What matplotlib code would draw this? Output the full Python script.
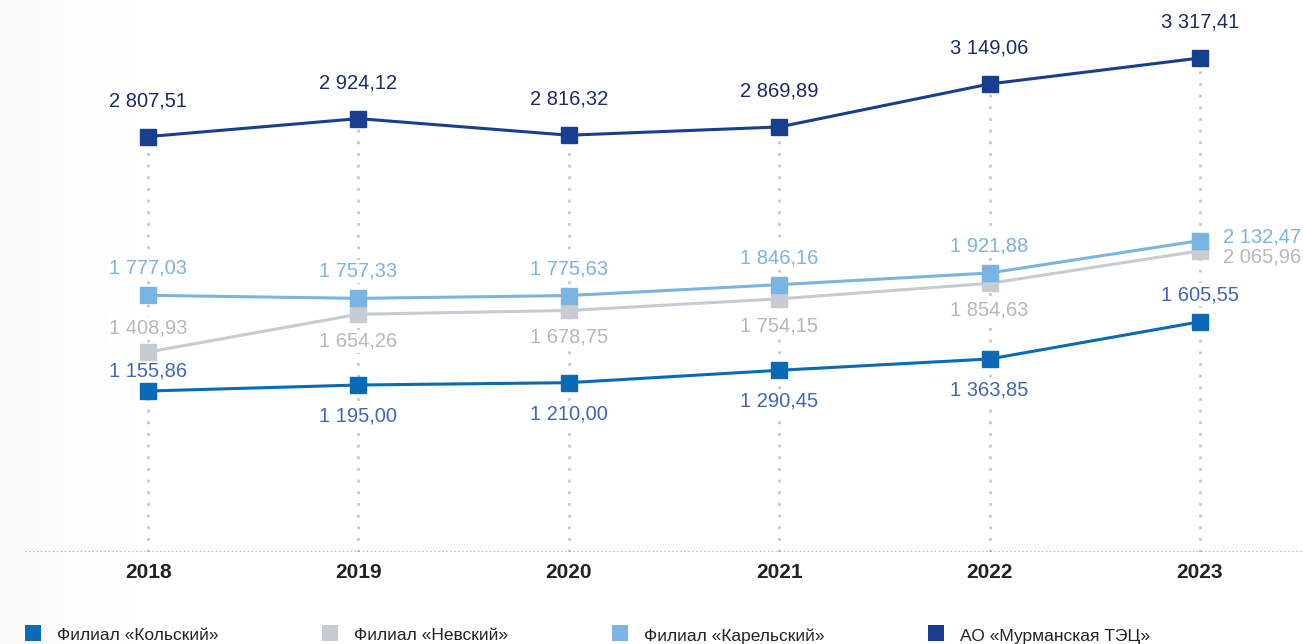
import numpy as np
import matplotlib.pyplot as plt
from matplotlib.patches import Rectangle

plt.rcParams['font.family'] = ['Liberation Sans', 'DejaVu Sans']

years = [2018, 2019, 2020, 2021, 2022, 2023]
murmansk = [2807.51, 2924.12, 2816.32, 2869.89, 3149.06, 3317.41]
karelsky = [1777.03, 1757.33, 1775.63, 1846.16, 1921.88, 2132.47]
nevsky = [1408.93, 1654.26, 1678.75, 1754.15, 1854.63, 2065.96]
kolsky = [1155.86, 1195.00, 1210.00, 1290.45, 1363.85, 1605.55]

legend_names = ['Филиал «Кольский»', 'Филиал «Невский»',
                'Филиал «Карельский»', 'АО «Мурманская ТЭЦ»']


def fmt(v):
    return f"{v:,.2f}".replace(",", " ").replace(".", ",")


W, H = 1303, 644
fig = plt.figure(figsize=(W / 100, H / 100), dpi=100)

# soft grey shade along the left edge
bg = fig.add_axes([0, 0, 1, 1], zorder=-10)
grad = np.clip(1 - np.linspace(0, 1, 1303) / 0.11, 0, 1)
bg.imshow(np.tile(grad, (10, 1)), cmap='Greys', vmin=0, vmax=20,
          aspect='auto', extent=[0, 1, 0, 1])
bg.set_axis_off()

ax = fig.add_axes([25 / W, (H - 552) / H, 1 - 25 / W, 552 / H])
ax.patch.set_alpha(0)
ax.set_xlim(2017.415, 2023.49)
ax.set_ylim(111, 3694)
ax.set_axis_off()

# dotted guides under each year
ax.vlines(years, 111, murmansk, colors='#c3c9d0', linestyles=(0, (1, 3.2)),
          linewidth=2, zorder=1)
ax.axhline(111, color='#9a9fa6', linestyle=(0, (1, 1.6)), linewidth=1.1, zorder=1)

series = [
    (kolsky, '#0a6ab5', '#4266b2'),
    (nevsky, '#c6ccd3', '#b8b8b8'),
    (karelsky, '#7ab4e2', '#7ab4e2'),
    (murmansk, '#173f8e', '#1d2a66'),
]
for vals, col, _ in series:
    ax.plot(years, vals, color=col, linewidth=2.2, marker='s', markersize=11.5,
            zorder=3)

box = dict(boxstyle='square,pad=0.1', facecolor='white', edgecolor='none')


def label(x, v, dx, dy, color, ha='center'):
    ax.annotate(fmt(v), (x, v), xytext=(dx, dy), textcoords='offset pixels',
                ha=ha, va='center', fontsize=14.5, color=color, bbox=box,
                zorder=2)


for x, v in zip(years, murmansk):
    label(x, v, 0, 36, series[3][2])
for x, v in zip(years[:-1], karelsky[:-1]):
    label(x, v, 0, 27, series[2][2])
label(years[-1], karelsky[-1], 23, 4, series[2][2], ha='left')
label(years[0], nevsky[0], 0, 24, series[1][2])
for x, v in zip(years[1:-1], nevsky[1:-1]):
    label(x, v, 0, -27, series[1][2])
label(years[-1], nevsky[-1], 23, -6, series[1][2], ha='left')
label(years[0], kolsky[0], 0, 20, series[0][2])
for x, v in zip(years[1:-1], kolsky[1:-1]):
    label(x, v, 0, -31, series[0][2])
label(years[-1], kolsky[-1], 0, 27, series[0][2])

for x in years:
    ax.annotate(str(x), (x, 111), xytext=(0, -21), textcoords='offset pixels',
                ha='center', va='center', fontsize=15, fontweight='bold',
                color='#222222', annotation_clip=False)

# legend along the bottom
leg_x = [25, 322, 612, 928]
for lx, name, (_, col, _) in zip(leg_x, legend_names, series):
    fig.add_artist(Rectangle((lx / W, (H - 641) / H), 16 / W, 16 / H,
                             transform=fig.transFigure, facecolor=col,
                             edgecolor='none'))
    fig.text((lx + 32) / W, (H - 636) / H, name, fontsize=12.5, color='#222222',
             ha='left', va='center')

fig.savefig('out.png', dpi=100)
